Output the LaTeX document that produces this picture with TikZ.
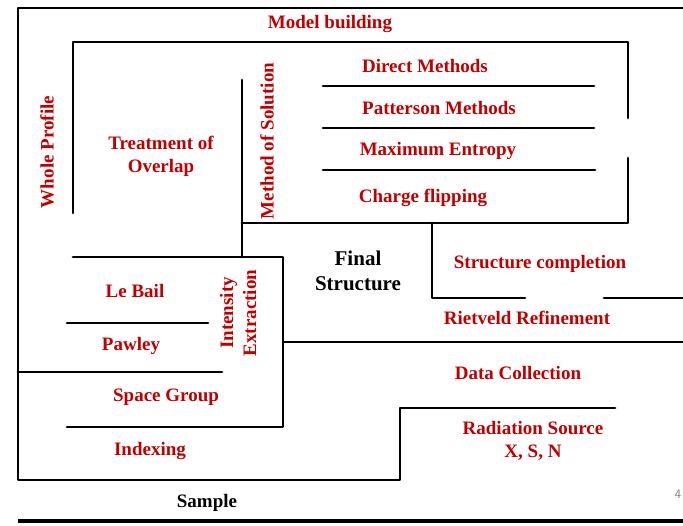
\documentclass[tikz,border=0pt]{standalone}
\usepackage{fontspec}
\setmainfont{Liberation Serif}
\definecolor{lblred}{RGB}{192,0,0}
\definecolor{pgnum}{RGB}{128,128,128}
\tikzset{
  wall/.style={line width=2.8pt, line cap=round, line join=round},
  lbl/.style={text=lblred, font=\fontsize{19}{23}\selectfont\bfseries, align=center, inner sep=0pt},
  blk/.style={text=black, font=\fontsize{19}{23}\selectfont\bfseries, align=center, inner sep=0pt},
}
\begin{document}
\begin{tikzpicture}[x=1pt,y=-1pt]
\useasboundingbox (0,0) rectangle (683,525);
% outer frame
\draw[wall] (683,8) -- (18,8) -- (18,480) -- (400,480) -- (400,408) -- (615,408);
\draw[line width=3.2pt] (18,521) -- (683,521);
% inner model building frame
\draw[wall] (73,213) -- (73,42) -- (628,42) -- (628,118);
\draw[wall] (628,158) -- (628,223) -- (242,223);
% method of solution separators
\draw[wall] (242,80) -- (242,257);
\draw[wall] (323,86) -- (594,86);
\draw[wall] (323,128) -- (594,128);
\draw[wall] (323,170) -- (595,170);
% intensity extraction block
\draw[wall] (73,257) -- (283,257) -- (283,427) -- (67,427);
\draw[wall] (67,323) -- (208,323);
\draw[wall] (18,372) -- (222,372);
\draw[wall] (283,342) -- (683,342);
% structure completion
\draw[wall] (432,223) -- (432,298) -- (525,298);
\draw[wall] (604,298) -- (683,298);
% labels
\node[lbl] (mb) at (330,24) {Model building};
\node[lbl, rotate=90] (wp) at (47,152) {Whole Profile};
\node[lbl] (to) at (161,156) {Treatment of\\Overlap};
\node[lbl, rotate=90] (ms) at (267,141) {Method of Solution};
\node[lbl] (dm) at (425,66) {Direct Methods};
\node[lbl] (pm) at (439,108) {Patterson Methods};
\node[lbl] (me) at (438,151) {Maximum Entropy};
\node[lbl] (cf) at (423,198) {Charge flipping};
\node[blk, font=\fontsize{21}{25}\selectfont\bfseries] (fs) at (358,271) {Final\\Structure};
\node[lbl] (sc) at (540,264) {Structure completion};
\node[lbl] (rr) at (527,318) {Rietveld Refinement};
\node[lbl] (lb) at (135,291) {Le Bail};
\node[lbl] (pw) at (131,346) {Pawley};
\node[lbl, rotate=90] (ie) at (238,313) {Intensity\\Extraction};
\node[lbl] (dc) at (518,373) {Data Collection};
\node[lbl] (sg) at (166,397) {Space Group};
\node[lbl] (ix) at (150,451) {Indexing};
\node[lbl] (rs) at (533,441) {Radiation Source\\X, S, N};
\node[blk] (sa) at (207,503) {Sample};
\node[text=pgnum, font=\fontsize{13}{14}\selectfont\sffamily, inner sep=0pt] (pg) at (678,494) {4};
\end{tikzpicture}
\end{document}
